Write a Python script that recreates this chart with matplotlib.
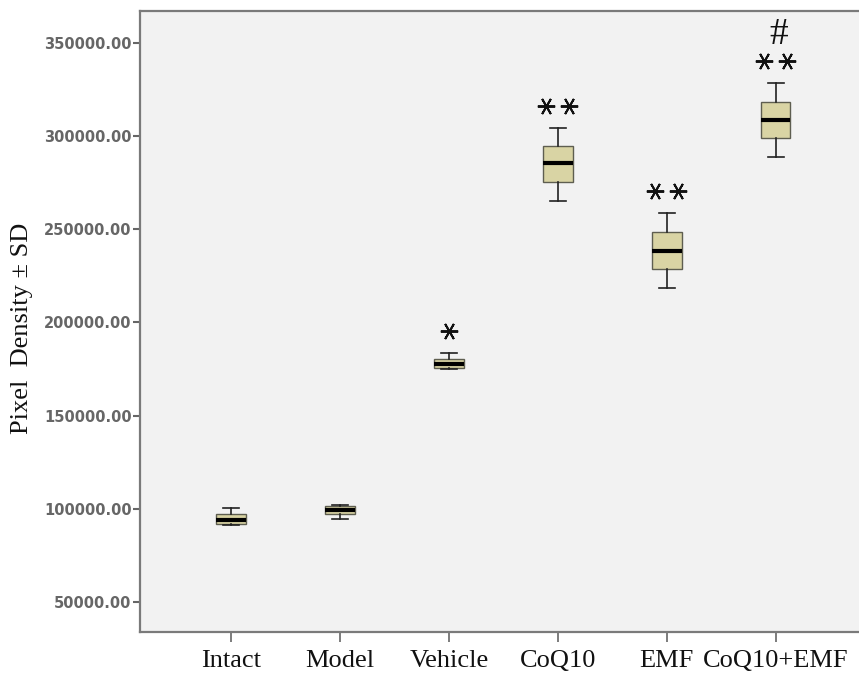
"""
Box plot of pixel density per treatment group, with significance marks.
"""
import matplotlib
matplotlib.use("Agg")
import matplotlib.pyplot as plt

# Groups and box statistics
groups = ["Intact", "Model", "Vehicle", "CoQ10", "EMF", "CoQ10+EMF"]
whislo = [91500, 94500, 175000, 265200, 218500, 288800]
q1 = [92000, 97200, 175800, 275400, 228700, 299000]
med = [93800, 99300, 177600, 285600, 238400, 308700]
q3 = [97000, 101500, 180400, 294700, 248600, 318300]
whishi = [100500, 102000, 183600, 304400, 258800, 328500]

# Significance marks above each group
n_stars = [0, 0, 1, 2, 2, 2]
hash_mark = [False, False, False, False, False, True]

yticks = [50000, 100000, 150000, 200000, 250000, 300000, 350000]

stats = []
for i, g in enumerate(groups):
    stats.append(dict(label=g, whislo=whislo[i], q1=q1[i], med=med[i],
                      q3=q3[i], whishi=whishi[i], fliers=[]))

fig = plt.figure(figsize=(8.59, 6.76), dpi=100)
ax = fig.add_axes([0.163, 0.065, 0.846, 0.919])
ax.set_facecolor("#f2f2f2")

positions = list(range(1, len(groups) + 1))
ax.bxp(
    stats,
    positions=positions,
    widths=0.27,
    patch_artist=True,
    showfliers=False,
    boxprops=dict(facecolor="#d9d4a4", edgecolor="#5e5e50", linewidth=1.0),
    medianprops=dict(color="black", linewidth=3),
    whiskerprops=dict(color="#222222", linewidth=1.2),
    capprops=dict(color="#222222", linewidth=1.2),
    capwidths=0.15,
)

# stars and hash marks
for i, x in enumerate(positions):
    if n_stars[i] == 1:
        xs = [x]
    elif n_stars[i] == 2:
        xs = [x - 0.105, x + 0.105]
    else:
        xs = []
    if xs:
        ax.plot(xs, [whishi[i] + 11800] * len(xs), linestyle="none",
                marker=(6, 2, 90), markersize=12.5, markeredgewidth=1.4,
                color="#111111")
    if hash_mark[i]:
        ax.text(x + 0.03, whishi[i] + 26000, "#", ha="center", va="center",
                fontsize=27, family="Liberation Serif", color="#111111")

ax.set_xlim(0.165, 6.835)
ax.set_ylim(33900, 367200)
ax.set_xticks(positions)
ax.set_xticklabels(groups, family="Liberation Serif", fontsize=19,
                   color="#111111")
ax.set_yticks(yticks)
ax.set_yticklabels(["%.2f" % v for v in yticks], fontsize=10.5,
                   color="#666666", fontweight="bold")
ax.tick_params(axis="y", length=5, width=1.5, color="#666666", pad=1)
ax.tick_params(axis="x", length=7, width=1.2, color="#666666", pad=6)

fig.text(22 / 859, 1 - 328 / 676, "Pixel  Density \u00b1 SD",
         family="Liberation Serif", fontsize=19, color="#111111",
         rotation=90, ha="center", va="center")

for side in ["left", "bottom", "top"]:
    ax.spines[side].set_color("#7a7a7a")
    ax.spines[side].set_linewidth(1.6)
ax.spines["right"].set_visible(False)

fig.savefig("out.png", dpi=100, facecolor="white")
